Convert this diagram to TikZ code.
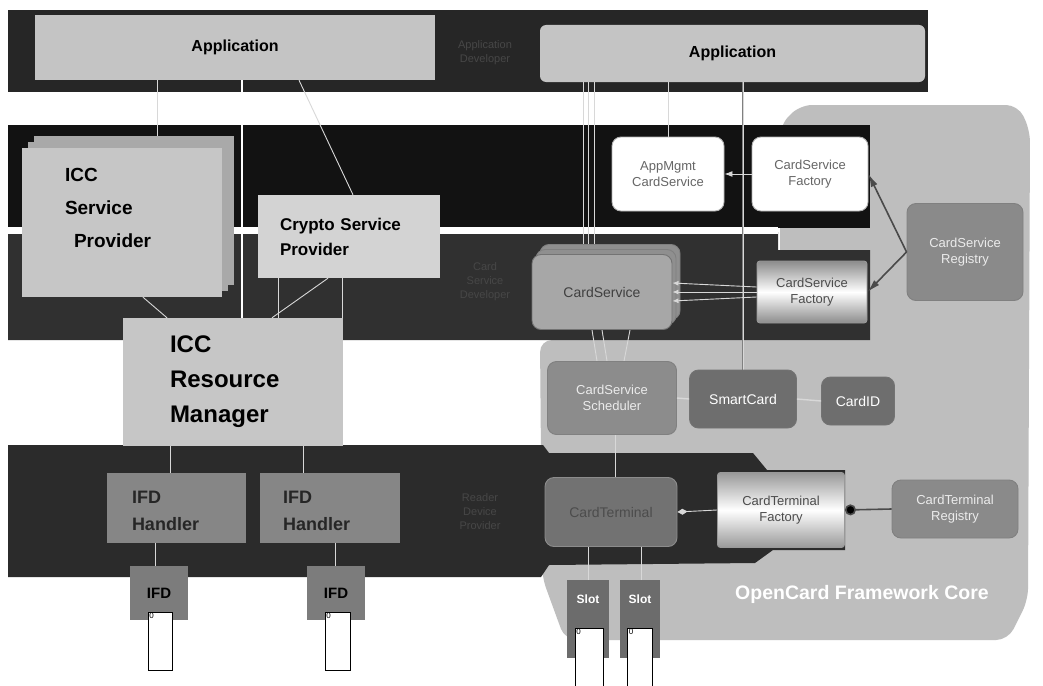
\documentclass[tikz,border=0pt]{standalone}
\usepackage{fontspec}
\setmainfont{Liberation Sans}
\usetikzlibrary{shadows,arrows.meta}
\pgfdeclarelayer{bands}
\pgfdeclarelayer{wires}
\pgfsetlayers{bands,wires,main}
\definecolor{bandtop}{HTML}{262626}
\definecolor{bandup}{HTML}{121212}
\definecolor{bandlow}{HTML}{303030}
\definecolor{bandbot}{HTML}{2B2B2B}
\definecolor{coregray}{HTML}{BEBEBE}
\definecolor{appgray}{HTML}{C4C4C4}
\definecolor{lightbox}{HTML}{C6C6C6}
\definecolor{backbox}{HTML}{A9A9A9}
\definecolor{cryptobox}{HTML}{D3D3D3}
\definecolor{handler}{HTML}{868686}
\definecolor{ifdgray}{HTML}{7C7C7C}
\definecolor{csgray}{HTML}{A7A7A7}
\definecolor{csback}{HTML}{8F8F8F}
\definecolor{reggray}{HTML}{8A8A8A}
\definecolor{schedgray}{HTML}{8C8C8C}
\definecolor{scgray}{HTML}{6E6E6E}
\definecolor{ctgray}{HTML}{727272}
\definecolor{slotgray}{HTML}{6C6C6C}
\definecolor{wire}{HTML}{D8D8D8}
\definecolor{faint}{HTML}{474747}
\definecolor{darkwire}{HTML}{4A4A4A}
\begin{document}
\begin{tikzpicture}[x=1pt,y=-1pt,
  lbox/.style={draw=none, fill=lightbox, text=black, align=left, inner ysep=0pt},
  rbox/.style={rounded corners=9pt, draw=black!55, line width=0.9pt, align=center, inner sep=0pt,
    font=\fontsize{13}{16}\selectfont},
  wireline/.style={draw=wire, line width=0.9pt},
  regline/.style={draw=darkwire, line width=1.6pt},
  cardbox/.style={draw=black, line width=0.8pt, fill=white, inner sep=0pt},
  faintlabel/.style={text=faint, align=center, font=\fontsize{11}{14}\selectfont},
  slotbox/.style={fill=slotgray, draw=none, inner sep=0pt, minimum height=78, text depth=40pt,
    text=white, font=\fontsize{12}{14}\selectfont\bfseries}
]
\useasboundingbox (0,0) rectangle (1043,685);

\begin{pgfonlayer}{bands}
\fill[white] (0,0) rectangle (1043,685);
\fill[coregray, rounded corners=12pt] (800,105) -- (1018,105) -- (1030,130) -- (1028,600) -- (1008,640) -- (565,640) -- (542,577) -- (540,340) -- (780,340) -- (780,125) -- cycle;
\fill[bandtop] (8,10) rectangle (928,92);
\fill[bandup] (8,125) rectangle (870,228);
\fill[bandlow] (8,232) -- (778,232) -- (778,250) -- (870,250) -- (870,340) -- (8,340) -- cycle;
\fill[white] (8,227) rectangle (778,234);
\fill[bandbot] (8,445) -- (543,445) -- (549,453) -- (753,453) -- (767,470) -- (845,470) -- (845,550) -- (773,550) -- (755,563) -- (549,565) -- (541,577) -- (8,577) -- cycle;
\end{pgfonlayer}

% faint layer labels
\node[faintlabel] (lblapp) at (485,53) {Application\\Developer};
\node[faintlabel] (lblcs) at (485,282) {Card\\Service\\Developer};
\node[faintlabel] (lblrd) at (480,512) {Reader\\Device\\Provider};

% left side
\node[lbox, fill=appgray, minimum width=400, minimum height=65, font=\fontsize{16}{19}\selectfont\bfseries] (app1) at (235,47.5) {Application};
\node[lbox, fill=appgray, rounded corners=6pt, minimum width=385, minimum height=57, font=\fontsize{16}{19}\selectfont\bfseries] (app2) at (732.5,53.5) {Application};

\node[lbox, minimum height=149, text width=114, inner xsep=43, text depth=95pt,
  font=\fontsize{19}{33}\selectfont\bfseries,
  double copy shadow={shadow xshift=6pt, shadow yshift=6pt, fill=backbox, draw=none}] (icc) at (122,222.5) {ICC\\Service\\\hspace*{9pt}Provider};
\node[lbox, fill=cryptobox, minimum height=83, text width=138, inner xsep=22,
  font=\fontsize{17}{25}\selectfont\bfseries] (crypto) at (349,236.5) {Crypto Service\\Provider};
\node[lbox, minimum height=128, text width=126, inner xsep=47,
  font=\fontsize{24}{35}\selectfont\bfseries] (irm) at (233,382) {ICC\\Resource\\Manager};
\node[lbox, fill=handler, minimum height=70, text width=89, inner xsep=25, text=black!85, text depth=21pt,
  font=\fontsize{18}{27}\selectfont\bfseries] (h1) at (176.5,508) {IFD\\Handler};
\node[lbox, fill=handler, minimum height=70, text width=94, inner xsep=23, text=black!85, text depth=21pt,
  font=\fontsize{18}{27}\selectfont\bfseries] (h2) at (330,508) {IFD\\Handler};
\node[lbox, fill=ifdgray, minimum width=58, minimum height=54, inner xsep=0pt, align=center, text depth=0pt,
  font=\fontsize{15}{18}\selectfont\bfseries] (ifd1) at (159,593) {IFD};
\node[lbox, fill=ifdgray, minimum width=58, minimum height=54, inner xsep=0pt, align=center, text depth=0pt,
  font=\fontsize{15}{18}\selectfont\bfseries] (ifd2) at (336,593) {IFD};
\node[cardbox, minimum width=24, minimum height=58,
  label={[anchor=north west, inner sep=1.5pt, font=\fontsize{8}{9}\selectfont]north west:0}] (card1) at (160,641) {};
\node[cardbox, minimum width=25, minimum height=58,
  label={[anchor=north west, inner sep=1.5pt, font=\fontsize{8}{9}\selectfont]north west:0}] (card2) at (337.5,641) {};

% right side
\node[rbox, fill=white, draw=black!30, minimum width=112, minimum height=74, text=black!60] (am) at (668,174) {AppMgmt\\CardService};
\node[rbox, fill=white, draw=black!30, minimum width=116, minimum height=74, text=black!60] (csf1) at (810,174) {CardService\\Factory};
\node[rbox, fill=csgray, minimum width=140, minimum height=75, text=black!75,
  font=\fontsize{14}{17}\selectfont,
  double copy shadow={shadow xshift=4pt, shadow yshift=5pt, fill=csback, draw=black!50}] (cs) at (602,292) {CardService};
\node[rbox, rounded corners=3pt, draw=black!40, top color=black!45, bottom color=black!45, middle color=white,
  minimum width=110, minimum height=62, text=black!70] (csf2) at (812,292) {CardService\\Factory};
\node[rbox, fill=reggray, draw=black!50, minimum width=116, minimum height=97, text=white!92!black] (csreg) at (965,252) {CardService\\Registry};
\node[rbox, fill=schedgray, draw=black!50, minimum width=129, minimum height=73, text=white!92!black] (sched) at (612,398) {CardService\\Scheduler};
\node[rbox, fill=scgray, draw=black!55, minimum width=107, minimum height=58, text=white,
  font=\fontsize{14}{17}\selectfont] (sc) at (743,399) {SmartCard};
\node[rbox, fill=scgray, draw=black!55, minimum width=73, minimum height=48, text=white,
  font=\fontsize{14}{17}\selectfont] (cid) at (858,401) {CardID};
\node[rbox, fill=ctgray, draw=black!45, minimum width=132, minimum height=69, text=black!70,
  font=\fontsize{14}{17}\selectfont] (ct) at (611,512) {CardTerminal};
\node[rbox, rounded corners=3pt, draw=black!40, top color=black!40, bottom color=black!40, middle color=white,
  minimum width=127, minimum height=75, text=black!70] (ctf) at (781,510) {CardTerminal\\Factory};
\node[rbox, fill=reggray, draw=black!50, minimum width=126, minimum height=58, text=white!92!black] (ctreg) at (955,509) {CardTerminal\\Registry};
\node[slotbox, minimum width=42] (slot1) at (588,619) {Slot};
\node[slotbox, minimum width=40] (slot2) at (640,619) {Slot};
\node[cardbox, minimum width=28, minimum height=62,
  label={[anchor=north west, inner sep=1.5pt, font=\fontsize{8}{9}\selectfont]north west:0}] (scard1) at (589,659) {};
\node[cardbox, minimum width=25, minimum height=62,
  label={[anchor=north west, inner sep=1.5pt, font=\fontsize{8}{9}\selectfont]north west:0}] (scard2) at (640,659) {};
\node[text=white, font=\fontsize{19.5}{22}\selectfont\bfseries] (corelabel) at (862,594) {OpenCard Framework Core};

% wires passing behind boxes
\begin{pgfonlayer}{wires}
\draw[wireline] (app1.south -| 157,0) -- (icc.north -| 157,0);
\draw[draw=white, line width=1.8pt] (app1.south -| 242,0) -- (irm.north -| 242,0);
\draw[wireline] (app1.south -| 299,0) -- (crypto.north -| 353,0);
\draw[wireline] (icc.south -| 143,0) -- (irm.north -| 167,0);
\draw[wireline] (crypto.south -| 328,0) -- (irm.north -| 272,0);
\draw[wireline] (crypto.south -| 278,0) -- (irm.north -| 278,0);
\draw[wireline] (crypto.south -| 342,0) -- (irm.north -| 342,0);
\draw[wireline] (irm.south -| 170,0) -- (h1.north -| 170,0);
\draw[wireline] (irm.south -| 303,0) -- (h2.north -| 303,0);
\draw[wireline] (h1.south -| 155,0) -- (ifd1.north -| 155,0);
\draw[wireline] (h2.south -| 335,0) -- (ifd2.north -| 335,0);
\foreach \x in {583,588,594} \draw[wireline] (app2.south -| \x,0) -- (cs.north -| \x,0);
\draw[wireline] (app2.south -| 668,0) -- (am.north -| 668,0);
\draw[wireline, double=wire, draw=black!50, double distance=0.8pt] (app2.south -| 743,0) -- (sc.north -| 743,0);
\draw[wireline] (cs.south -| 592,0) -- (sched.north -| 597,0);
\draw[wireline] (cs.south -| 602,0) -- (sched.north -| 607,0);
\draw[wireline] (cs.south -| 630,0) -- (sched.north -| 624,0);
\draw[wireline] (sched.south -| 615,0) -- (ct.north -| 615,0);
\draw[wireline] (ct.south -| 588,0) -- (slot1.north -| 588,0);
\draw[wireline] (ct.south -| 641,0) -- (slot2.north -| 641,0);
\end{pgfonlayer}

% connectors between boxes
\draw[wireline, -{Latex[length=8pt,width=6pt]}] (csf1.west) -- (am.east);
\draw[wireline, -{Latex[length=6pt,width=5pt]}] ([yshift=5pt]csf2.west) -- ([yshift=9pt]cs.east);
\draw[wireline, -{Latex[length=6pt,width=5pt]}] (csf2.west) -- (cs.east);
\draw[wireline, -{Latex[length=6pt,width=5pt]}] ([yshift=-5pt]csf2.west) -- ([yshift=-9pt]cs.east);
\draw[regline, -{Latex[length=13pt,width=7pt]}] (csreg.west) -- (csf1.east);
\draw[regline, -{Latex[length=13pt,width=7pt]}] (csreg.west) -- (csf2.east);
\draw[wireline, line width=1.4pt] (sched.east) -- (sc.west);
\draw[wireline, line width=1.4pt] (sc.east) -- (cid.west);
\draw[wireline, -{Diamond[length=10pt,width=6pt,fill=wire]}] (ctf.west) -- (ct.east);
\draw[regline, -{Circle[length=11pt,fill=black]}] (ctreg.west) -- (ctf.east);
\end{tikzpicture}
\end{document}
